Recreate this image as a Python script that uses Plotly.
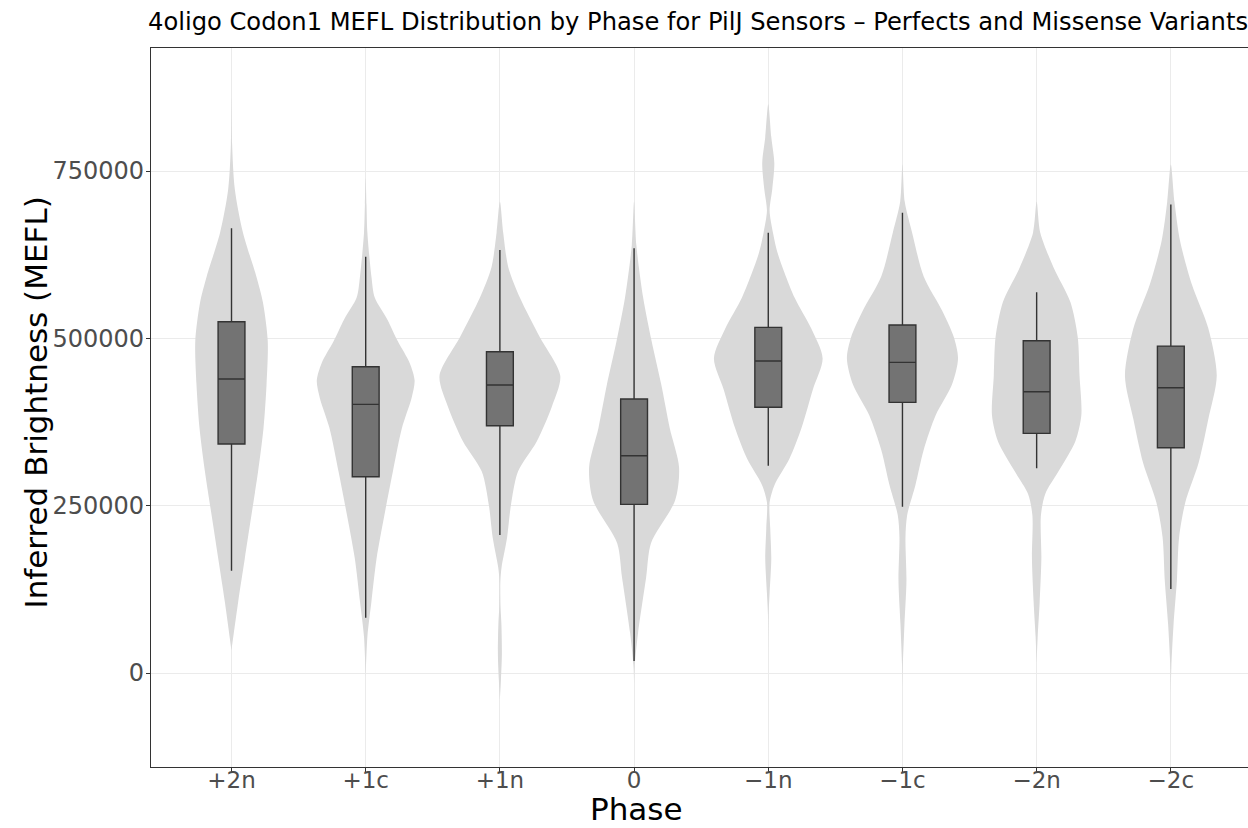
import plotly.graph_objects as go

# Phase categories in plotting order
phases = ["+2n", "+1c", "+1n", "0", "−1n", "−1c", "−2n", "−2c"]

# Box-plot summary statistics (MEFL) per phase
q1 = [342100, 293300, 369500, 252000, 397000, 404400, 358100, 336600]
median = [439200, 401400, 430300, 324700, 466100, 464200, 420300, 426200]
q3 = [524800, 457600, 480000, 409400, 516500, 519900, 496500, 488500]
lower_whisker = [152900, 82600, 206200, 17900, 309700, 248500, 305800, 125500]
upper_whisker = [664400, 622000, 632000, 634500, 657800, 687700, 568800, 700200]

# Kernel density profiles: evaluation levels (MEFL) and relative density
# (1.0 = widest point over all phases)
kde_y_p2n = [860000, 790000, 723000, 658000, 593000, 554000, 496000, 431000, 366000, 301000, 236000, 171000, 106000, 34000]
kde_d_p2n = [0, 0.01, 0.055, 0.19, 0.41, 0.52, 0.60, 0.58, 0.53, 0.44, 0.33, 0.22, 0.11, 0]

kde_y_p1c = [740000, 700000, 658000, 593000, 561000, 528000, 496000, 463000, 437000, 411000, 366000, 301000, 236000, 171000, 106000, 54000, -5000]
kde_d_p1c = [0, 0.013, 0.028, 0.094, 0.15, 0.36, 0.53, 0.73, 0.81, 0.76, 0.60, 0.45, 0.31, 0.18, 0.094, 0.028, 0]

kde_y_p1n = [704000, 658000, 606000, 561000, 502000, 444000, 398000, 346000, 301000, 249000, 203000, 158000, 138000, 100000, 73000, 28000, -11000, -40000]
kde_d_p1n = [0, 0.055, 0.14, 0.33, 0.66, 1.0, 0.86, 0.61, 0.30, 0.18, 0.12, 0.028, 0.008, 0.01, 0.025, 0.033, 0.017, 0]

kde_y_0 = [704000, 639000, 561000, 496000, 431000, 366000, 307000, 258000, 194000, 143000, 60000, 8000, -18000]
kde_d_0 = [0, 0.038, 0.15, 0.29, 0.45, 0.59, 0.745, 0.68, 0.28, 0.20, 0.066, 0.008, 0]

kde_y_m1n = [850000, 801000, 762000, 723000, 691000, 658000, 626000, 561000, 515000, 470000, 424000, 366000, 320000, 281000, 255000, 216000, 171000, 119000, 86000, 34000]
kde_d_m1n = [0, 0.05, 0.10, 0.066, 0.022, 0.078, 0.16, 0.435, 0.71, 0.90, 0.74, 0.55, 0.35, 0.104, 0.022, 0.033, 0.05, 0.022, 0.005, 0]

kde_y_m1c = [760000, 704000, 658000, 593000, 541000, 502000, 470000, 431000, 385000, 333000, 281000, 236000, 203000, 138000, 73000, 8000, -20000]
kde_d_m1c = [0, 0.038, 0.16, 0.35, 0.66, 0.85, 0.92, 0.82, 0.55, 0.35, 0.215, 0.078, 0.05, 0.066, 0.033, 0.005, 0]

kde_y_m2n = [704000, 658000, 606000, 554000, 502000, 444000, 385000, 346000, 301000, 268000, 236000, 171000, 106000, 54000, 15000]
kde_d_m2n = [0, 0.06, 0.28, 0.56, 0.68, 0.71, 0.74, 0.64, 0.36, 0.144, 0.071, 0.078, 0.05, 0.017, 0]

kde_y_m2c = [760000, 704000, 645000, 580000, 515000, 444000, 379000, 314000, 255000, 203000, 138000, 73000, 8000, -30000]
kde_d_m2c = [0, 0.06, 0.154, 0.35, 0.62, 0.76, 0.62, 0.46, 0.24, 0.137, 0.10, 0.045, 0.008, 0]

kde_levels = [kde_y_p2n, kde_y_p1c, kde_y_p1n, kde_y_0, kde_y_m1n, kde_y_m1c, kde_y_m2n, kde_y_m2c]
kde_density = [kde_d_p2n, kde_d_p1c, kde_d_p1n, kde_d_0, kde_d_m1n, kde_d_m1c, kde_d_m2n, kde_d_m2c]

HALF_WIDTH = 0.45   # violin half-width at relative density 1.0 (category units)
BOX_WIDTH = 0.2
X_RANGE = [-0.6, 7.575]
Y_RANGE = [-140460, 933900]

fig = go.Figure()

# Violins: mirrored density outline around each category position
for i, (ys, ds) in enumerate(zip(kde_levels, kde_density)):
    right_x = [i + HALF_WIDTH * d for d in ds]
    left_x = [i - HALF_WIDTH * d for d in reversed(ds)]
    fig.add_trace(go.Scatter(
        x=right_x + left_x,
        y=list(ys) + list(reversed(ys)),
        mode="lines",
        line=dict(width=0, shape="spline", smoothing=0.8, color="#D9D9D9"),
        fill="toself",
        fillcolor="#D9D9D9",
        hoverinfo="skip",
        showlegend=False,
    ))

# Box plots on an overlaid pair of axes so they sit above the violins
for i in range(len(phases)):
    fig.add_trace(go.Box(
        x=[i],
        q1=[q1[i]],
        median=[median[i]],
        q3=[q3[i]],
        lowerfence=[lower_whisker[i]],
        upperfence=[upper_whisker[i]],
        width=BOX_WIDTH,
        whiskerwidth=0,
        fillcolor="#737373",
        line=dict(color="#333333", width=1.4),
        boxpoints=False,
        hoverinfo="skip",
        showlegend=False,
        xaxis="x2",
        yaxis="y2",
    ))

font_family = "DejaVu Sans, Liberation Sans, Arial, sans-serif"

fig.update_layout(
    template="none",
    width=1248,
    height=828,
    margin=dict(l=151, r=0, t=48, b=61),
    paper_bgcolor="white",
    plot_bgcolor="white",
    font=dict(family=font_family, color="#000000"),
    title=dict(
        text="4oligo Codon1 MEFL Distribution by Phase for PilJ Sensors – Perfects and Missense Variants",
        font=dict(size=24.2, color="#000000", family=font_family),
        xref="container", x=148 / 1248, xanchor="left",
        yref="container", y=1 - 22 / 828, yanchor="middle",
    ),
    xaxis=dict(
        range=X_RANGE,
        tickmode="array",
        tickvals=list(range(len(phases))),
        ticktext=phases,
        tickfont=dict(size=23, color="#4D4D4D"),
        ticks="outside", ticklen=4, tickcolor="#333333", tickwidth=1,
        ticklabelstandoff=-12,
        showline=True, linecolor="#333333", linewidth=1.2, mirror=True,
        showgrid=True, gridcolor="#EBEBEB", gridwidth=1.1,
        zeroline=False,
        automargin=False,
    ),
    yaxis=dict(
        range=Y_RANGE,
        tickmode="array",
        tickvals=[0, 250000, 500000, 750000],
        ticktext=["0", "250000", "500000", "750000"],
        tickfont=dict(size=24, color="#4D4D4D"),
        ticks="outside", ticklen=4, tickcolor="#333333", tickwidth=1,
        ticklabelstandoff=-3,
        showline=True, linecolor="#333333", linewidth=1.2, mirror=False,
        showgrid=True, gridcolor="#EBEBEB", gridwidth=1.1,
        zeroline=False,
        automargin=False,
    ),
    xaxis2=dict(overlaying="x", matches="x", range=X_RANGE, visible=False,
                showgrid=False, zeroline=False),
    yaxis2=dict(overlaying="y", matches="y", range=Y_RANGE, visible=False,
                showgrid=False, zeroline=False),
    annotations=[
        dict(text="Phase", xref="paper", yref="paper", x=0, y=0,
             xshift=636 - 151, yshift=-61, borderpad=0,
             xanchor="center", yanchor="bottom", showarrow=False,
             font=dict(size=31, color="#000000", family=font_family)),
        dict(text="Inferred Brightness (MEFL)", xref="paper", yref="paper",
             x=0, y=0.5, xshift=-(151 - 35), yshift=5, textangle=-90,
             xanchor="center", yanchor="middle", showarrow=False, borderpad=0,
             font=dict(size=31, color="#000000", family=font_family)),
    ],
)

fig.write_html("out.html")
